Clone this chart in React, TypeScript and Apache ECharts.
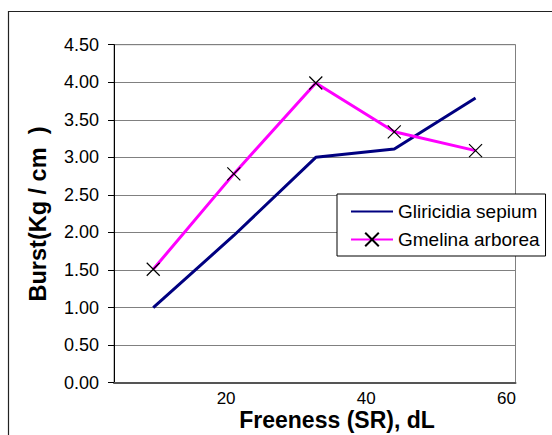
import React, { useEffect, useRef } from "react";
import * as echarts from "echarts";

// Freeness (SR) readings, shared by both species
const freeness = [9.6, 21.1, 32.8, 44.0, 55.6];
// Burst strength (Kg / cm²)
const gliricidia = [1.0, 1.96, 3.0, 3.11, 3.79];
const gmelina = [1.51, 2.78, 3.99, 3.34, 3.09];
const xTickLabels = [20, 40, 60];
const seriesNames = ["Gliricidia sepium", "Gmelina arborea"];

const FONT = "'Liberation Sans', Arial, Helvetica, sans-serif";
const CROSS = "path://M0,0L10,10M10,0L0,10";

export default function App() {
  const ref = useRef<HTMLDivElement>(null);

  useEffect(() => {
    if (!ref.current) return;
    const chart = echarts.init(ref.current, undefined, { renderer: "svg" });
    chart.setOption({
      animation: false,
      backgroundColor: "#ffffff",
      textStyle: { fontFamily: FONT, color: "#000" },
      grid: {
        left: 114,
        top: 44.7,
        right: 36.5,
        bottom: 52.3,
        show: true,
        borderColor: "#808080",
        borderWidth: 1,
        backgroundColor: "transparent",
      },
      xAxis: {
        type: "value",
        min: 4,
        max: 61.3,
        axisLine: { show: true, onZero: false, lineStyle: { color: "#555", width: 2 } },
        axisTick: { show: false },
        splitLine: { show: false },
        axisLabel: {
          customValues: xTickLabels,
          fontSize: 17,
          fontFamily: FONT,
          color: "#000",
          margin: 7,
          showMinLabel: true,
          showMaxLabel: true,
        },
      },
      yAxis: {
        type: "value",
        min: 0,
        max: 4.5,
        interval: 0.5,
        axisLine: { show: true, lineStyle: { color: "#000", width: 1 } },
        axisTick: { show: true, length: 6, lineStyle: { color: "#000" } },
        splitLine: { show: true, lineStyle: { color: "#808080", width: 1 } },
        axisLabel: {
          fontSize: 18,
          fontFamily: FONT,
          color: "#000",
          margin: 15,
          formatter: (v: number) => v.toFixed(2),
        },
      },
      legend: {
        orient: "vertical",
        left: 337,
        top: 194,
        padding: [8, 6, 7, 13],
        itemWidth: 42,
        itemHeight: 17,
        itemGap: 9,
        backgroundColor: "#fff",
        borderColor: "#000",
        borderWidth: 1,
        borderRadius: 0,
        textStyle: { fontSize: 19, fontFamily: FONT, color: "#000" },
        data: [
          // plain line key, no marker
          { name: seriesNames[0], itemStyle: { opacity: 0 } },
          { name: seriesNames[1] },
        ],
      },
      series: [
        {
          name: seriesNames[0],
          type: "line",
          data: freeness.map((x, i) => [x, gliricidia[i]]),
          symbol: "none",
          showSymbol: false,
          lineStyle: { color: "#000080", width: 3 },
          itemStyle: { color: "rgba(0,0,0,0)" },
        },
        {
          name: seriesNames[1],
          type: "line",
          data: freeness.map((x, i) => [x, gmelina[i]]),
          symbol: CROSS,
          symbolSize: 13,
          showAllSymbol: true,
          lineStyle: { color: "#FF00FF", width: 3 },
          itemStyle: { color: "rgba(0,0,0,0)", borderColor: "#000", borderWidth: 1.2 },
        },
      ],
      graphic: [
        {
          type: "rect",
          shape: { x: 8.5, y: 11.5, width: 700, height: 600 },
          style: { fill: "none", stroke: "#222", lineWidth: 1.2 },
          silent: true,
          z: -1,
        },
        {
          type: "text",
          x: 37.7,
          y: 214,
          rotation: Math.PI / 2,
          style: {
            text: "Burst(Kg / cm  )",
            fontSize: 23.5,
            fontWeight: "bold",
            fontFamily: FONT,
            fill: "#000",
            align: "center",
            verticalAlign: "middle",
          },
        },
        {
          type: "text",
          x: 337,
          y: 420,
          style: {
            text: "Freeness (SR), dL",
            fontSize: 23,
            fontWeight: "bold",
            fontFamily: FONT,
            fill: "#000",
            align: "center",
            verticalAlign: "middle",
          },
        },
      ],
    });
    return () => chart.dispose();
  }, []);

  return (
    <div
      ref={ref}
      style={{ position: "absolute", left: 0, top: 0, width: 552, height: 435 }}
    />
  );
}
